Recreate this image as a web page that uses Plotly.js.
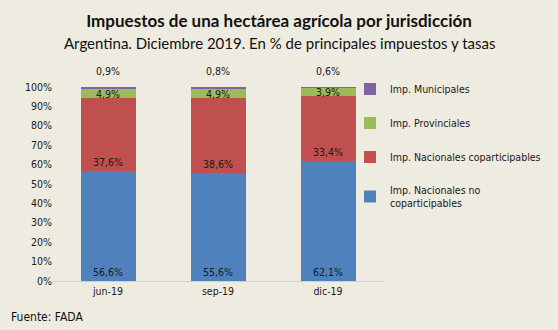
<!DOCTYPE html>
<html><head><meta charset="utf-8">
<script src="https://cdn.plot.ly/plotly-3.0.1.min.js"></script>
<style>html,body{margin:0;padding:0;background:#EEEBE0;}</style>
</head><body>
<div id="chart" style="width:558px;height:330px;"></div>
<script>
const categories = ['jun-19', 'sep-19', 'dic-19'];
const nacNoCopart = [56.6, 55.6, 62.1];
const nacCopart = [37.6, 38.6, 33.4];
const provinciales = [4.9, 4.9, 3.9];
const municipales = [0.9, 0.8, 0.6];
const seriesNames = ['Imp. Nacionales no<br>coparticipables', 'Imp. Nacionales coparticipables', 'Imp. Provinciales', 'Imp. Municipales'];
const yTickVals = [0,10,20,30,40,50,60,70,80,90,100];
const yTickText = yTickVals.map(v => v + '%');

const F = 'DejaVu Sans Condensed, DejaVu Sans, sans-serif';
const lblFont = {family: F, size: 10.5, color: '#1a1a1a'};

function mk(vals, name, color, pos, anchor, rank, txt) {
  return {
    type: 'bar', x: categories, y: vals, name: name,
    marker: {color: color},
    texttemplate: txt ? '%{y:.1f}%' : '', textposition: pos, insidetextanchor: anchor,
    textfont: lblFont, insidetextfont: lblFont, outsidetextfont: lblFont,
    constraintext: 'none', cliponaxis: false,
    legendrank: rank, legendgroup: 'g' + rank, hoverinfo: 'skip'
  };
}

// stack tops (rounded so they stay within the axis range)
const totals = categories.map((c, i) => Math.round((nacNoCopart[i] + nacCopart[i] + provinciales[i] + municipales[i]) * 10) / 10);

const data = [
  mk(nacNoCopart, seriesNames[0], '#4F81BD', 'inside', 'start', 4, true),
  mk(nacCopart, seriesNames[1], '#C0504D', 'inside', 'start', 3, true),
  mk(provinciales, seriesNames[2], '#9BBB59', 'inside', 'middle', 2, true),
  mk(municipales, seriesNames[3], '#8064A2', 'none', 'middle', 1, false),
  {
    type: 'scatter', mode: 'markers+text', x: categories, y: totals,
    marker: {size: 14, opacity: 0},
    text: municipales.map(v => v.toFixed(1).replace('.', ',') + '%'),
    textposition: 'top center', textfont: lblFont,
    showlegend: false, hoverinfo: 'skip', cliponaxis: false
  }
];

const layout = {
  width: 558, height: 330,
  paper_bgcolor: '#EEEBE0', plot_bgcolor: '#EEEBE0',
  separators: ',.',
  barmode: 'stack', bargap: 0.5,
  margin: {l: 53, r: 175, t: 87, b: 49},
  showlegend: true,
  title: {
    text: '<b>Impuestos de una hectárea agrícola por jurisdicción</b>',
    font: {family: 'Lato, sans-serif', size: 17, color: '#111'},
    x: 0.5, xanchor: 'center', xref: 'container',
    y: 0.935, yanchor: 'middle', yref: 'container'
  },
  annotations: [
    {text: 'Argentina. Diciembre 2019. En % de principales impuestos y tasas',
     xref: 'paper', yref: 'paper', x: 0.685, y: 1.226, xanchor: 'center', yanchor: 'middle',
     showarrow: false, font: {family: 'Lato, sans-serif', size: 15, color: '#111'}},
    {text: 'Fuente: FADA', xref: 'paper', yref: 'paper', x: -0.133, y: -0.185,
     xanchor: 'left', yanchor: 'middle', showarrow: false,
     font: {family: F, size: 12, color: '#111'}}
  ],
  xaxis: {
    showline: true, linecolor: '#D0D0D0', linewidth: 1, ticks: '',
    tickfont: {family: F, size: 10.5, color: '#1a1a1a'}, fixedrange: true
  },
  yaxis: {
    range: [0, 100], tickmode: 'array', tickvals: yTickVals, ticktext: yTickText,
    showgrid: false, zeroline: false, showline: false, ticks: '',
    tickfont: {family: F, size: 10.5, color: '#1a1a1a'}, fixedrange: true
  },
  legend: {
    x: 0.9, xanchor: 'left', y: 1.065, yanchor: 'top',
    bgcolor: 'rgba(0,0,0,0)', traceorder: 'grouped', tracegroupgap: 15, itemsizing: 'constant',
    font: {family: F, size: 10.5, color: '#1a1a1a'}
  }
};

Plotly.newPlot('chart', data, layout, {displayModeBar: false, staticPlot: true});
</script>
</body></html>
